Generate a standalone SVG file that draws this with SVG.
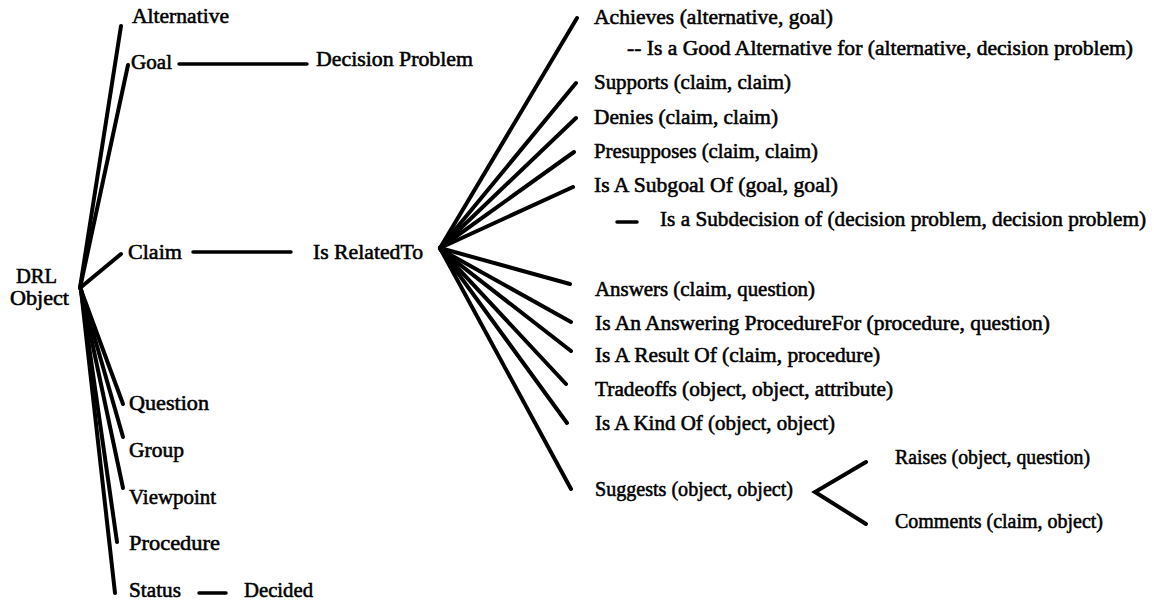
<svg xmlns="http://www.w3.org/2000/svg" width="1154" height="604" viewBox="0 0 1154 604">
  <style>
    text { font-family: "Liberation Serif", "Times New Roman", serif; font-size: 21px; fill: #000; stroke: #000; stroke-width: 0.55px; }
    .edge { stroke: #000; stroke-width: 4; stroke-linecap: round; fill: none; }
    .link { stroke: #000; stroke-width: 3.5; stroke-linecap: round; fill: none; }
  </style>
  <rect width="1154" height="604" fill="#fff"/>

  <!-- connectors -->
  <g id="connectors">
    <!-- DRL Object fan -->
    <line class="edge" x1="80" y1="288" x2="121" y2="26"/>
    <line class="edge" x1="80" y1="288" x2="128" y2="65"/>
    <line class="edge" x1="80" y1="288" x2="121" y2="254"/>
    <line class="edge" x1="81" y1="290" x2="123" y2="404"/>
    <line class="edge" x1="81" y1="290" x2="123" y2="437"/>
    <line class="edge" x1="81" y1="290" x2="123" y2="488"/>
    <line class="edge" x1="81" y1="290" x2="117" y2="542"/>
    <line class="edge" x1="81" y1="290" x2="115" y2="593"/>
    <!-- horizontal links -->
    <line class="link" x1="179" y1="64" x2="307" y2="64"/>
    <line class="link" x1="193" y1="252" x2="291" y2="252"/>
    <line class="link" x1="199" y1="593" x2="226" y2="593"/>
    <line class="link" x1="617" y1="222" x2="637" y2="222"/>
    <!-- Is RelatedTo fan -->
    <line class="edge" x1="440" y1="248" x2="577" y2="18"/>
    <line class="edge" x1="440" y1="248" x2="576" y2="83"/>
    <line class="edge" x1="440" y1="248" x2="576" y2="118"/>
    <line class="edge" x1="440" y1="248" x2="574" y2="152"/>
    <line class="edge" x1="440" y1="248" x2="573" y2="187"/>
    <line class="edge" x1="440" y1="248" x2="570" y2="284"/>
    <line class="edge" x1="440" y1="249" x2="571" y2="322"/>
    <line class="edge" x1="441" y1="250" x2="571" y2="351"/>
    <line class="edge" x1="441" y1="250" x2="566" y2="384"/>
    <line class="edge" x1="441" y1="250" x2="567" y2="423"/>
    <line class="edge" x1="441" y1="250" x2="571" y2="489"/>
    <!-- Suggests branch -->
    <polyline class="edge" points="866,462 815,492 866,524"/>
  </g>

  <g id="drl-object"><text x="16" y="283" textLength="41" lengthAdjust="spacingAndGlyphs">DRL</text><text x="10" y="305" textLength="59" lengthAdjust="spacingAndGlyphs">Object</text></g>
  <g id="alternative"><text x="132" y="23" textLength="97" lengthAdjust="spacingAndGlyphs">Alternative</text></g>
  <g id="goal"><text x="131" y="69" textLength="41" lengthAdjust="spacingAndGlyphs">Goal</text></g>
  <g id="decision-problem"><text x="316" y="66" textLength="157" lengthAdjust="spacingAndGlyphs">Decision Problem</text></g>
  <g id="claim"><text x="128" y="259" textLength="54" lengthAdjust="spacingAndGlyphs">Claim</text></g>
  <g id="is-related-to"><text x="313" y="259" textLength="110" lengthAdjust="spacingAndGlyphs">Is RelatedTo</text></g>
  <g id="question"><text x="129" y="410" textLength="80" lengthAdjust="spacingAndGlyphs">Question</text></g>
  <g id="group"><text x="129" y="457" textLength="55" lengthAdjust="spacingAndGlyphs">Group</text></g>
  <g id="viewpoint"><text x="129" y="504" textLength="87" lengthAdjust="spacingAndGlyphs">Viewpoint</text></g>
  <g id="procedure"><text x="129" y="550" textLength="91" lengthAdjust="spacingAndGlyphs">Procedure</text></g>
  <g id="status"><text x="129" y="597" textLength="52" lengthAdjust="spacingAndGlyphs">Status</text></g>
  <g id="decided"><text x="244" y="597" textLength="69" lengthAdjust="spacingAndGlyphs">Decided</text></g>

  <g id="achieves"><text x="594" y="24" textLength="239" lengthAdjust="spacingAndGlyphs">Achieves (alternative, goal)</text></g>
  <g id="good-alternative"><text x="627" y="55" textLength="506" lengthAdjust="spacingAndGlyphs">-- Is a Good Alternative for (alternative, decision problem)</text></g>
  <g id="supports"><text x="594" y="89" textLength="197" lengthAdjust="spacingAndGlyphs">Supports (claim, claim)</text></g>
  <g id="denies"><text x="594" y="124" textLength="184" lengthAdjust="spacingAndGlyphs">Denies (claim, claim)</text></g>
  <g id="presupposes"><text x="594" y="158" textLength="224" lengthAdjust="spacingAndGlyphs">Presupposes (claim, claim)</text></g>
  <g id="subgoal"><text x="594" y="192" textLength="244" lengthAdjust="spacingAndGlyphs">Is A Subgoal Of (goal, goal)</text></g>
  <g id="subdecision"><text x="660" y="226" textLength="486" lengthAdjust="spacingAndGlyphs">Is a Subdecision of (decision problem, decision problem)</text></g>
  <g id="answers"><text x="595" y="296" textLength="220" lengthAdjust="spacingAndGlyphs">Answers (claim, question)</text></g>
  <g id="answering-procedure"><text x="595" y="330" textLength="455" lengthAdjust="spacingAndGlyphs">Is An Answering ProcedureFor (procedure, question)</text></g>
  <g id="result-of"><text x="595" y="362" textLength="285" lengthAdjust="spacingAndGlyphs">Is A Result Of (claim, procedure)</text></g>
  <g id="tradeoffs"><text x="595" y="396" textLength="298" lengthAdjust="spacingAndGlyphs">Tradeoffs (object, object, attribute)</text></g>
  <g id="kind-of"><text x="595" y="430" textLength="240" lengthAdjust="spacingAndGlyphs">Is A Kind Of (object, object)</text></g>
  <g id="suggests"><text x="595" y="496" textLength="198" lengthAdjust="spacingAndGlyphs">Suggests (object, object)</text></g>
  <g id="raises"><text x="895" y="464" textLength="195" lengthAdjust="spacingAndGlyphs">Raises (object, question)</text></g>
  <g id="comments"><text x="895" y="528" textLength="208" lengthAdjust="spacingAndGlyphs">Comments (claim, object)</text></g>
</svg>
